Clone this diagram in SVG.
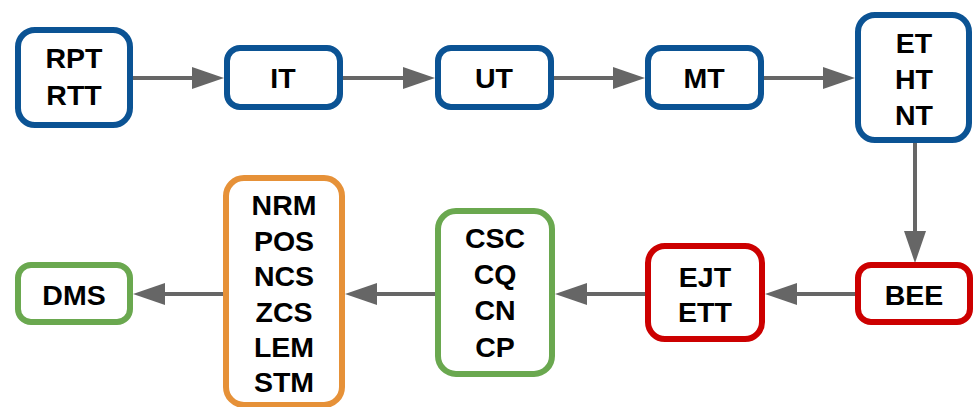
<svg xmlns="http://www.w3.org/2000/svg" width="976" height="407" viewBox="0 0 976 407">
<style>
.box{fill:#fff;stroke-width:6}
.b{stroke:#0b5394}
.r{stroke:#cc0000}
.g{stroke:#6aa84f}
.o{stroke:#e69138}
text{font-family:"Liberation Sans",Arial,sans-serif;font-weight:bold;font-size:28.5px;fill:#000;text-anchor:middle}
.c line{stroke:#666;stroke-width:4;marker-end:url(#ah)}
</style>
<defs>
<marker id="ah" markerUnits="userSpaceOnUse" markerWidth="32" markerHeight="24" refX="4" refY="12" orient="auto">
<path d="M0,1 L32,12 L0,23 z" fill="#666"/>
</marker>
</defs>
<g class="c" id="connectors">
<line x1="133" y1="78" x2="196" y2="78"/>
<line x1="343" y1="78" x2="407" y2="78"/>
<line x1="553" y1="78" x2="617" y2="78"/>
<line x1="764" y1="78" x2="827" y2="78"/>
<line x1="915" y1="143" x2="915" y2="235"/>
<line x1="855" y1="294" x2="793" y2="294"/>
<line x1="645" y1="294" x2="583" y2="294"/>
<line x1="435" y1="294" x2="373" y2="294"/>
<line x1="223" y1="294" x2="161" y2="294"/>
</g>
<g id="RPT"><rect class="box b" x="18" y="30" width="112" height="95" rx="17"/><text x="74" y="68">RPT</text><text x="74" y="105">RTT</text></g>
<g id="IT"><rect class="box b" x="227" y="48" width="113" height="59" rx="13"/><text x="283" y="88">IT</text></g>
<g id="UT"><rect class="box b" x="438" y="48" width="113" height="59" rx="13"/><text x="494" y="88">UT</text></g>
<g id="MT"><rect class="box b" x="648" y="48" width="113" height="59" rx="13"/><text x="704" y="88">MT</text></g>
<g id="ET"><rect class="box b" x="858" y="15" width="111" height="125" rx="17"/><text x="914" y="53">ET</text><text x="914" y="89">HT</text><text x="914" y="125">NT</text></g>
<g id="BEE"><rect class="box r" x="858" y="265" width="112" height="57" rx="13"/><text x="914" y="305">BEE</text></g>
<g id="EJT"><rect class="box r" x="648" y="246" width="114" height="93" rx="17"/><text x="705" y="287">EJT</text><text x="705" y="322">ETT</text></g>
<g id="CSC"><rect class="box g" x="438" y="211" width="114" height="163" rx="18"/><text x="495" y="248">CSC</text><text x="495" y="284">CQ</text><text x="495" y="320">CN</text><text x="495" y="357">CP</text></g>
<g id="NRM"><rect class="box o" x="226" y="178" width="116" height="227" rx="18"/><text x="284" y="215">NRM</text><text x="284" y="251">POS</text><text x="284" y="286">NCS</text><text x="284" y="322">ZCS</text><text x="284" y="357">LEM</text><text x="284" y="392">STM</text></g>
<g id="DMS"><rect class="box g" x="18" y="265" width="112" height="57" rx="13"/><text x="74" y="305">DMS</text></g>
</svg>
